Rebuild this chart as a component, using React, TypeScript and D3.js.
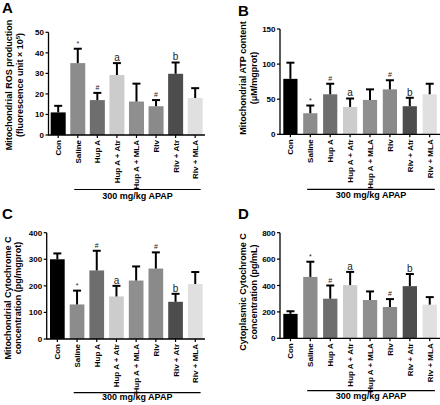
import React from "react";
import * as d3 from "d3";

const categories = ["Con", "Saline", "Hup A", "Hup A + Atr", "Hup A + MLA", "Riv", "Riv + Atr", "Riv + MLA"];
const barColors = ["#000000", "#8c8c8c", "#6e6e6e", "#cccccc", "#8f8f8f", "#8a8a8a", "#4d4d4d", "#e0e0e0"];
const sigMarks = ["", "*", "#", "a", "", "#", "b", ""];

const rosMean = [11, 35, 17, 29.2, 16.3, 14, 29.8, 18];
const rosErr = [3.2, 7, 3.5, 5.8, 8.7, 3, 5.5, 4.8];
const atpMean = [79, 30, 57, 39, 49, 64, 40, 57];
const atpErr = [23, 11, 15, 12, 15, 13, 12, 15];
const mitoCytMean = [300, 130, 258, 160, 220, 265, 140, 207];
const mitoCytErr = [22, 52, 74, 40, 53, 61, 30, 45];
const cytoCytMean = [185, 465, 300, 403, 290, 237, 395, 255];
const cytoCytErr = [20, 115, 100, 100, 65, 60, 92, 57];

const rosTicks = [0, 10, 20, 30, 40, 50];
const atpTicks = [0, 50, 100, 150];
const mitoTicks = [0, 100, 200, 300, 400];
const cytoTicks = [0, 200, 400, 600, 800];

const groupLabel = "300 mg/kg APAP";
const FONT = "'Liberation Sans', Arial, sans-serif";

type PanelProps = {
  letter: string;
  letterX: number;
  letterY: number;
  mean: number[];
  err: number[];
  ticks: number[];
  axisX: number;
  y0: number;
  yTop: number;
  first: number;
  step: number;
  bw: number;
  axisEnd: number;
  title1: React.ReactNode;
  title2: React.ReactNode;
  titleX: [number, number];
  titleCY: number;
  apapY: number;
  apapTextY: number;
};

function Panel(p: PanelProps) {
  const max = p.ticks[p.ticks.length - 1];
  const y = d3.scaleLinear().domain([0, max]).range([p.y0, p.yTop]);
  const x = d3
    .scaleBand<string>()
    .domain(categories)
    .range([p.first, p.first + 7 * p.step + p.bw])
    .paddingInner((p.step - p.bw) / p.step)
    .paddingOuter(0);
  const bw = x.bandwidth();
  const lineStart = (x("Saline") as number) + 4;
  const lineEnd = (x("Riv + MLA") as number) + bw - 2;
  return (
    <g fontFamily={FONT}>
      <text x={p.letterX} y={p.letterY} fontSize={15} fontWeight="bold">
        {p.letter}
      </text>
      {categories.map((c, i) => {
        const bx = x(c) as number;
        const top = y(p.mean[i]);
        const et = y(p.mean[i] + p.err[i]);
        const cx = bx + bw / 2;
        const mk = sigMarks[i];
        const isLetter = mk === "a" || mk === "b";
        return (
          <g key={c}>
            <rect x={bx} y={top} width={bw} height={p.y0 - top} fill={barColors[i]} />
            <line x1={cx} x2={cx} y1={top} y2={et} stroke="#000" strokeWidth={2} />
            <line x1={cx - 4} x2={cx + 4} y1={et} y2={et} stroke="#000" strokeWidth={2} />
            {mk && (
              <text
                x={cx}
                y={isLetter ? et - 2 : et - 3}
                textAnchor="middle"
                fontSize={isLetter ? 10 : 7}
                fill="#222"
              >
                {mk}
              </text>
            )}
            <line x1={cx} x2={cx} y1={p.y0} y2={p.y0 + 3} stroke="#000" strokeWidth={1.2} />
            <text
              transform={`translate(${cx + 3},${p.y0 + 5}) rotate(-90)`}
              textAnchor="end"
              fontSize={8}
              fontWeight="bold"
            >
              {c}
            </text>
          </g>
        );
      })}
      <line x1={p.axisX} x2={p.axisX} y1={p.y0 + 0.6} y2={p.yTop} stroke="#000" strokeWidth={1.3} />
      <line x1={p.axisX} x2={p.axisEnd} y1={p.y0} y2={p.y0} stroke="#000" strokeWidth={1.3} />
      {p.ticks.map((t) => (
        <g key={t}>
          <line x1={p.axisX - 3} x2={p.axisX} y1={y(t)} y2={y(t)} stroke="#000" strokeWidth={1.2} />
          <text x={p.axisX - 4.5} y={y(t) + 3} textAnchor="end" fontSize={8} fontWeight="bold">
            {t}
          </text>
        </g>
      ))}
      <text
        transform={`translate(${p.titleX[0]},${p.titleCY}) rotate(-90)`}
        textAnchor="middle"
        fontSize={9}
        fontWeight="bold"
      >
        {p.title1}
      </text>
      <text
        transform={`translate(${p.titleX[1]},${p.titleCY}) rotate(-90)`}
        textAnchor="middle"
        fontSize={9}
        fontWeight="bold"
      >
        {p.title2}
      </text>
      <line x1={lineStart} x2={lineEnd} y1={p.apapY} y2={p.apapY} stroke="#000" strokeWidth={1.2} />
      <text x={(lineStart + lineEnd) / 2} y={p.apapTextY} textAnchor="middle" fontSize={9} fontWeight="bold">
        {groupLabel}
      </text>
    </g>
  );
}

export default function App() {
  return (
    <svg
      width={440}
      height={405}
      style={{ position: "absolute", left: 0, top: 0, background: "#fff" }}
    >
      <rect width={440} height={405} fill="#fff" />
      <Panel
        letter="A"
        letterX={2}
        letterY={12.5}
        mean={rosMean}
        err={rosErr}
        ticks={rosTicks}
        axisX={48.5}
        y0={135}
        yTop={32.3}
        first={50.7}
        step={19.57}
        bw={15}
        axisEnd={205}
        title1="Mitochondrial ROS production"
        title2={
          <>
            (fluorescence unit × 10<tspan baselineShift="super" fontSize={6}>5</tspan>)
          </>
        }
        titleX={[12, 22.5]}
        titleCY={85}
        apapY={189.5}
        apapTextY={199}
      />
      <Panel
        letter="B"
        letterX={238}
        letterY={15.5}
        mean={atpMean}
        err={atpErr}
        ticks={atpTicks}
        axisX={280}
        y0={134.3}
        yTop={29}
        first={283.3}
        step={19.9}
        bw={14.2}
        axisEnd={440}
        title1="Mitochondrial ATP content"
        title2="(μM/mgprot)"
        titleX={[246, 257]}
        titleCY={78}
        apapY={189.3}
        apapTextY={198}
      />
      <Panel
        letter="C"
        letterX={2}
        letterY={218.5}
        mean={mitoCytMean}
        err={mitoCytErr}
        ticks={mitoTicks}
        axisX={46.7}
        y0={339}
        yTop={232.7}
        first={50}
        step={19.7}
        bw={14.7}
        axisEnd={205}
        title1="Mitochondrial Cytochrome C"
        title2="concentration (pg/mgprot)"
        titleX={[11, 21]}
        titleCY={298}
        apapY={392.7}
        apapTextY={399.5}
      />
      <Panel
        letter="D"
        letterX={238}
        letterY={218.5}
        mean={cytoCytMean}
        err={cytoCytErr}
        ticks={cytoTicks}
        axisX={280}
        y0={338.3}
        yTop={232.7}
        first={283.3}
        step={19.9}
        bw={14.3}
        axisEnd={440}
        title1="Cytoplasmic Cytochrome C"
        title2="concentration (pg/mL)"
        titleX={[246, 257]}
        titleCY={292}
        apapY={390.7}
        apapTextY={399}
      />
    </svg>
  );
}
